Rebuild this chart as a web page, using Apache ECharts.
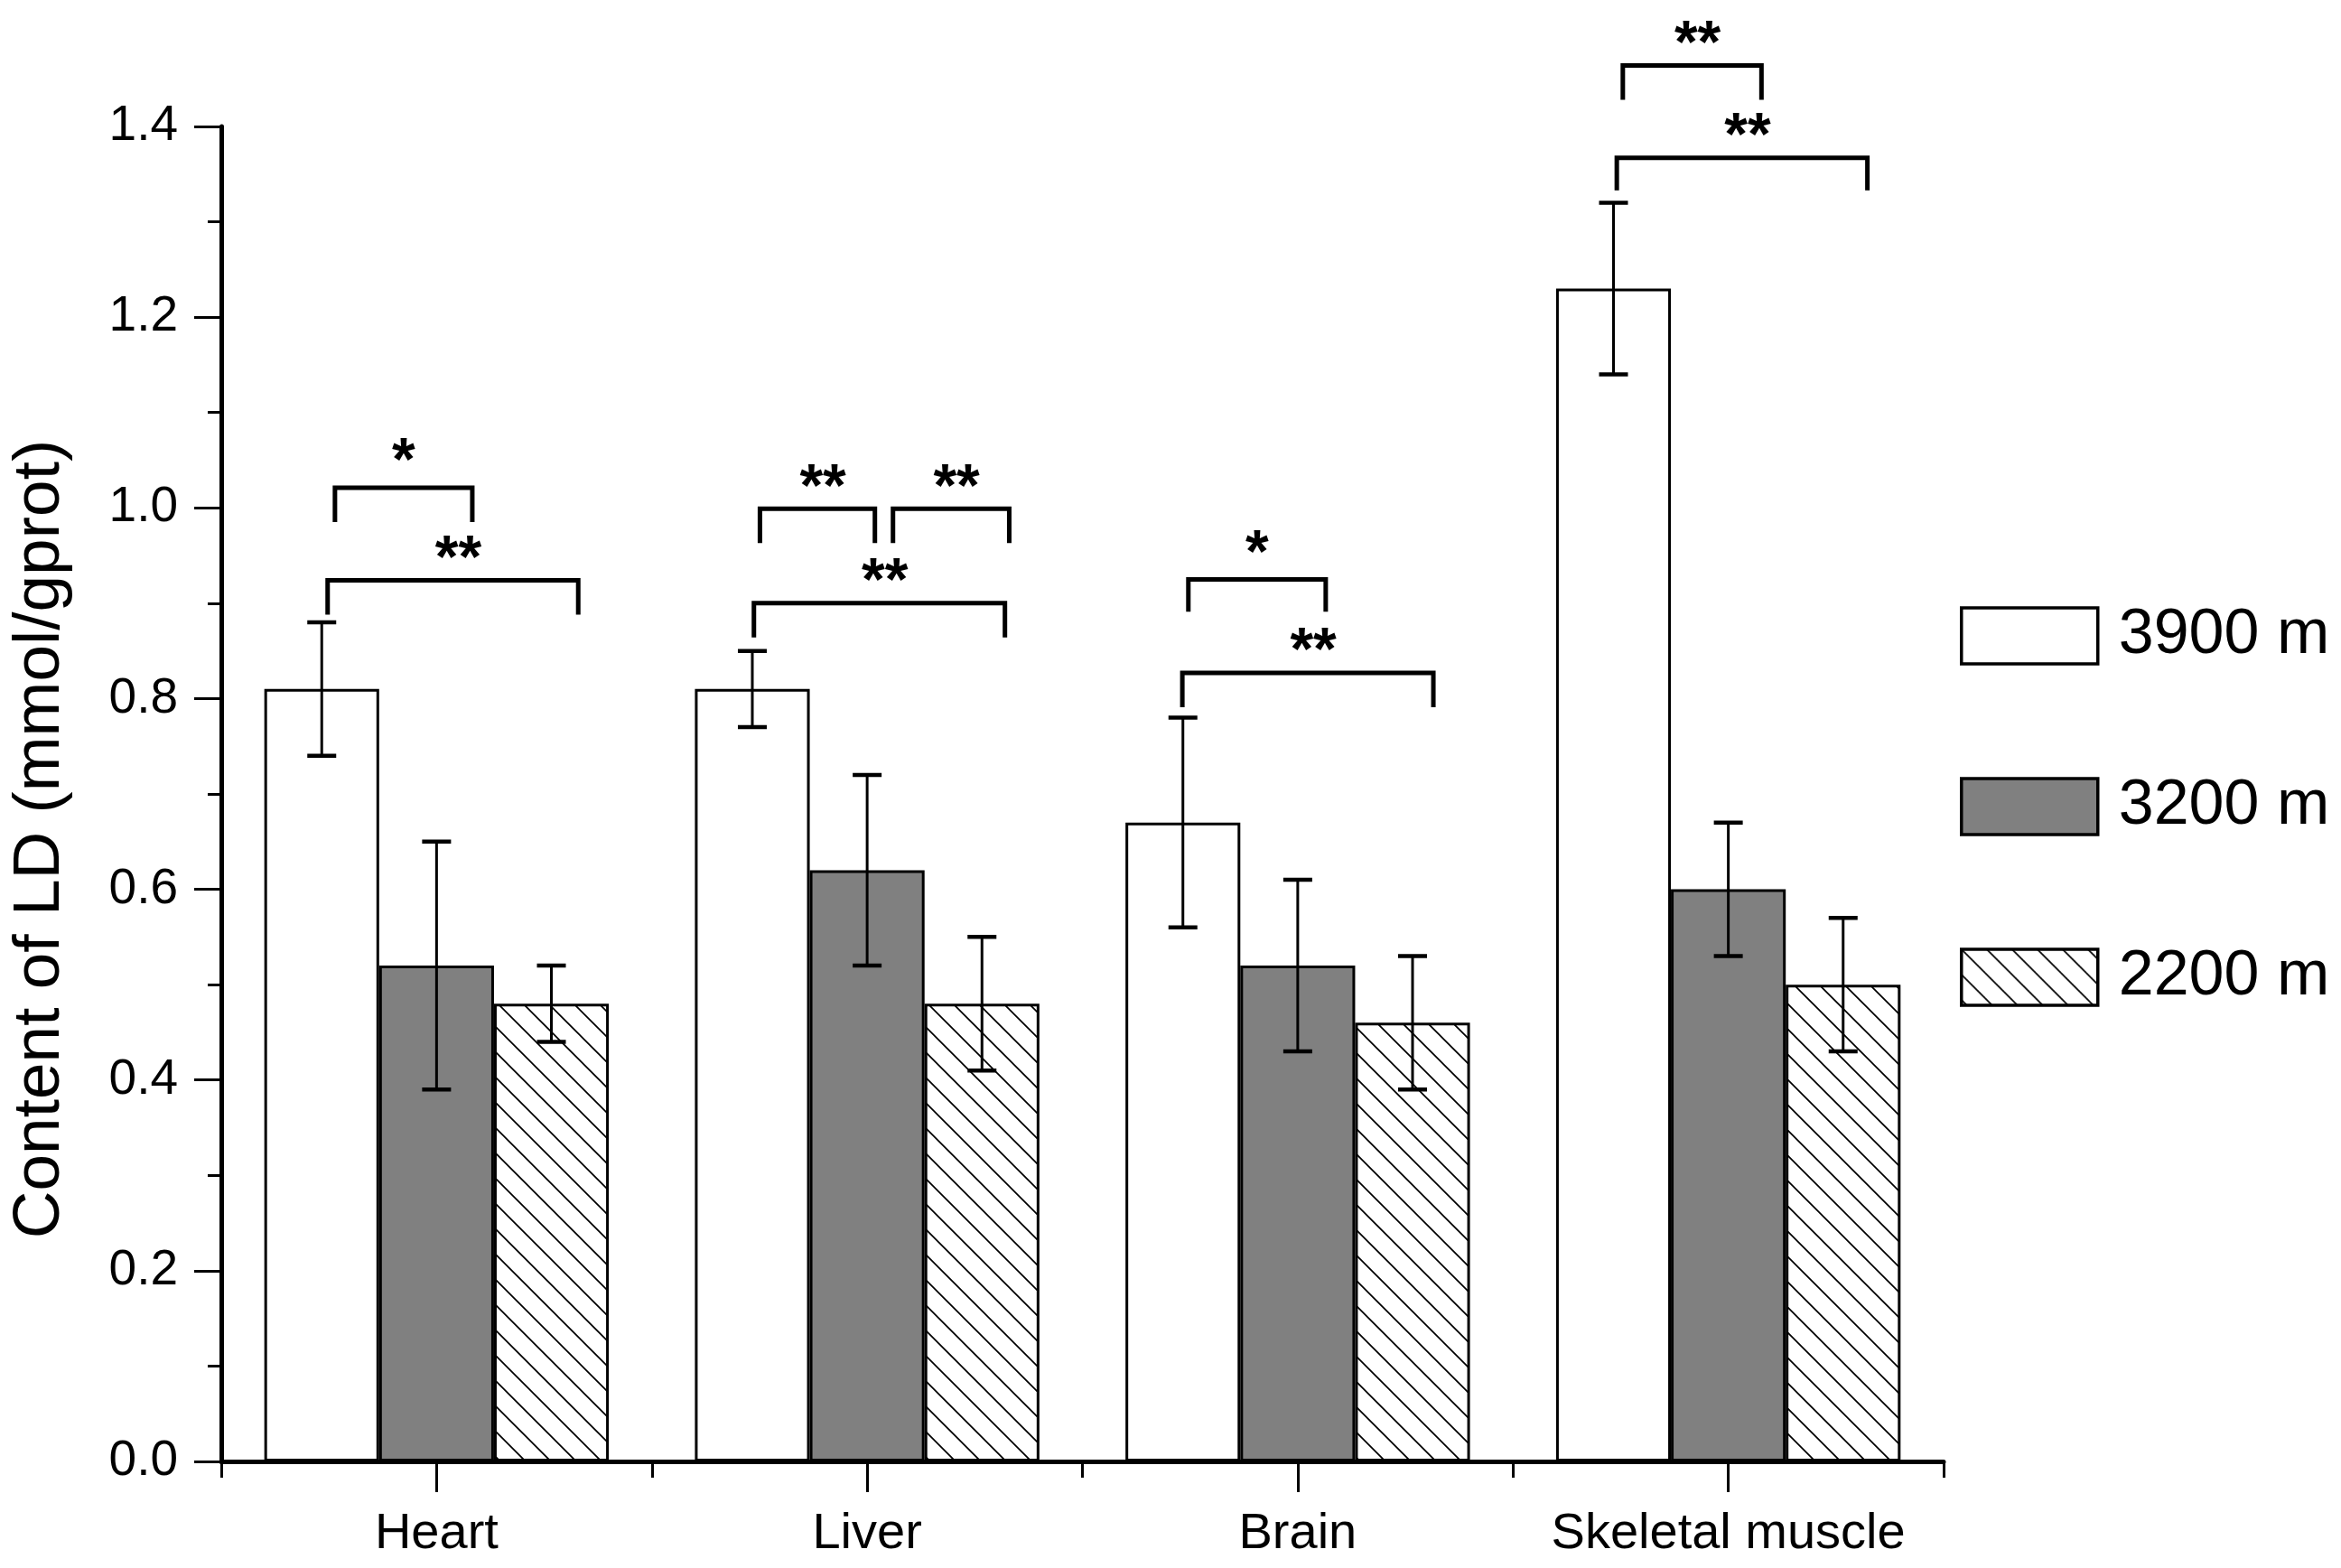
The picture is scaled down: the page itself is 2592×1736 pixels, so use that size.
<!DOCTYPE html>
<html>
<head>
<meta charset="utf-8">
<script src="https://cdn.jsdelivr.net/npm/echarts@6/dist/echarts.min.js"></script>
<style>
html,body{margin:0;padding:0;background:#fff;}
#chart{width:2592px;height:1736px;}
</style>
</head>
<body>
<div id="chart"></div>
<script>
// ---------------- data ----------------
const categories = ['Heart', 'Liver', 'Brain', 'Skeletal muscle'];
const seriesNames = ['3900 m', '3200 m', '2200 m'];
const mean3900 = [0.81, 0.81, 0.67, 1.23];
const mean3200 = [0.52, 0.62, 0.52, 0.60];
const mean2200 = [0.48, 0.48, 0.46, 0.50];
const err3900 = [0.07, 0.04, 0.11, 0.09];
const err3200 = [0.13, 0.10, 0.09, 0.07];
const err2200 = [0.04, 0.07, 0.07, 0.07];
const yTicks = [0, 0.2, 0.4, 0.6, 0.8, 1.0, 1.2, 1.4];
const yAxisTitle = 'Content of LD (mmol/gprot)';

// significance brackets: category, left offset, right offset (in category widths), top value, leg value, label
const bracketCat   = [0, 0, 1, 1, 1, 2, 2, 3, 3];
const bracketFrom  = [-0.236, -0.253, -0.249, 0.060, -0.263, -0.254, -0.268, -0.245, -0.259];
const bracketTo    = [0.083, 0.329, 0.018, 0.330, 0.320, 0.065, 0.315, 0.077, 0.323];
const bracketTop   = [1.021, 0.924, 0.999, 0.999, 0.900, 0.925, 0.827, 1.464, 1.367];
const bracketLeg   = [0.985, 0.888, 0.963, 0.963, 0.864, 0.891, 0.791, 1.428, 1.333];
const bracketLabel = ['*', '**', '**', '**', '**', '*', '**', '**', '**'];

// ---------------- helpers ----------------
function hatchPattern() {
  const s = 28;
  const c = document.createElement('canvas');
  c.width = s; c.height = s;
  const g = c.getContext('2d');
  g.fillStyle = '#fff';
  g.fillRect(0, 0, s, s);
  g.strokeStyle = '#000';
  g.lineWidth = 1.7;
  g.beginPath();
  g.moveTo(-2, -2); g.lineTo(s + 2, s + 2);
  g.moveTo(-2, s - 2); g.lineTo(2, s + 2);
  g.moveTo(s - 2, -2); g.lineTo(s + 2, 2);
  g.stroke();
  return { image: c, repeat: 'repeat' };
}

const BAR_FRAC = 0.8 / 3;
function errRender(offset) {
  return function (params, api) {
    const c = api.value(0);
    const lo = api.coord([c, api.value(1)]);
    const hi = api.coord([c, api.value(2)]);
    const bw = api.size([1, 0])[0];
    const x = lo[0] + offset * BAR_FRAC * bw;
    const cap = 16;
    const st = { stroke: '#000', lineWidth: 3 };
    const stc = { stroke: '#000', lineWidth: 4.5 };
    return {
      type: 'group',
      children: [
        { type: 'line', shape: { x1: x, y1: hi[1], x2: x, y2: lo[1] }, style: st },
        { type: 'line', shape: { x1: x - cap, y1: hi[1], x2: x + cap, y2: hi[1] }, style: stc },
        { type: 'line', shape: { x1: x - cap, y1: lo[1], x2: x + cap, y2: lo[1] }, style: stc }
      ]
    };
  };
}

function errData(mean, err) {
  return mean.map((m, i) => [i, +(m - err[i]).toFixed(3), +(m + err[i]).toFixed(3)]);
}

function bracketRender(params, api) {
  const i = params.dataIndex;
  const c = api.value(0);
  const bw = api.size([1, 0])[0];
  const top = api.coord([c, api.value(3)]);
  const leg = api.coord([c, api.value(4)]);
  const x0 = top[0] + api.value(1) * bw;
  const x1 = top[0] + api.value(2) * bw;
  const single = bracketLabel[i].length === 1;
  const xm = (x0 + x1) / 2 + (single ? 0 : 6);
  return {
    type: 'group',
    children: [
      {
        type: 'polyline',
        shape: { points: [[x0, leg[1]], [x0, top[1]], [x1, top[1]], [x1, leg[1]]] },
        style: { stroke: '#000', lineWidth: 5, fill: null }
      },
      {
        type: 'text',
        style: {
          text: bracketLabel[i],
          x: xm, y: top[1] + (single ? 6 : 11),
          align: 'center', verticalAlign: 'bottom',
          font: 'bold 66px "Liberation Sans", Arial, sans-serif',
          fill: '#000'
        }
      }
    ]
  };
}

const bracketData = bracketCat.map((c, i) => [c, bracketFrom[i], bracketTo[i], bracketTop[i], bracketLeg[i]]);

// ---------------- chart ----------------
const chart = echarts.init(document.getElementById('chart'), null, { renderer: 'canvas' });
const FONT = '"Liberation Sans", Arial, sans-serif';
const hatch = hatchPattern();

const barBase = { type: 'bar', barGap: '0%', barCategoryGap: '20%', z: 2 };

chart.setOption({
  animation: false,
  backgroundColor: '#fff',
  textStyle: { fontFamily: FONT, color: '#000' },
  grid: { left: 245, right: 440, top: 140, bottom: 118, containLabel: false, outerBoundsMode: 'none' },
  graphic: [{
    type: 'text',
    x: 45, y: 929,
    rotation: Math.PI / 2,
    style: {
      text: yAxisTitle,
      align: 'center', verticalAlign: 'middle',
      font: '73px "Liberation Sans", Arial, sans-serif',
      fill: '#000'
    }
  }],
  legend: {
    orient: 'vertical',
    left: 2165,
    top: 664,
    itemWidth: 151,
    itemHeight: 62,
    itemGap: 119,
    icon: 'rect',
    selectedMode: false,
    data: seriesNames,
    itemStyle: { borderColor: '#000', borderWidth: 3.5 },
    textStyle: { fontSize: 70, fontFamily: FONT, color: '#000', lineHeight: 66, padding: [0, 0, 0, 18] }
  },
  xAxis: [
    {
      type: 'category',
      data: categories,
      position: 'bottom',
      axisLine: { show: true, lineStyle: { color: '#000', width: 5 } },
      axisTick: { show: true, interval: 0, alignWithLabel: false, length: 18, lineStyle: { color: '#000', width: 3 } },
      axisLabel: { interval: 0, fontSize: 56, fontFamily: FONT, color: '#000', margin: 53 },
      splitLine: { show: false }
    },
    {
      type: 'category',
      data: categories,
      position: 'bottom',
      offset: 0,
      axisLine: { show: false },
      axisTick: { show: true, interval: 0, alignWithLabel: true, length: 34, lineStyle: { color: '#000', width: 3 } },
      axisLabel: { show: false, interval: 0 },
      splitLine: { show: false }
    }
  ],
  yAxis: {
    type: 'value',
    min: 0,
    max: 1.4,
    interval: 0.2,
    axisLine: { show: true, lineStyle: { color: '#000', width: 5 } },
    axisTick: { show: true, length: 30, lineStyle: { color: '#000', width: 3 } },
    minorTick: { show: true, splitNumber: 2, length: 15, lineStyle: { color: '#000', width: 3 } },
    splitLine: { show: false },
    axisLabel: {
      fontSize: 55, fontFamily: FONT, color: '#000', margin: 48,
      formatter: v => { const t = yTicks.find(k => Math.abs(k - v) < 1e-6); return (t !== undefined ? t : v).toFixed(1); }
    }
  },
  series: [
    Object.assign({}, barBase, {
      name: seriesNames[0], data: mean3900,
      itemStyle: { color: '#fff', borderColor: '#000', borderWidth: 3 }
    }),
    Object.assign({}, barBase, {
      name: seriesNames[1], data: mean3200,
      itemStyle: { color: '#808080', borderColor: '#000', borderWidth: 3 }
    }),
    Object.assign({}, barBase, {
      name: seriesNames[2], data: mean2200,
      itemStyle: { color: hatch, borderColor: '#000', borderWidth: 3 }
    }),
    { type: 'custom', name: 'err1', z: 5, renderItem: errRender(-1), data: errData(mean3900, err3900), encode: { x: 0, y: [1, 2] } },
    { type: 'custom', name: 'err2', z: 5, renderItem: errRender(0), data: errData(mean3200, err3200), encode: { x: 0, y: [1, 2] } },
    { type: 'custom', name: 'err3', z: 5, renderItem: errRender(1), data: errData(mean2200, err2200), encode: { x: 0, y: [1, 2] } },
    { type: 'custom', name: 'sig', z: 6, clip: false, renderItem: bracketRender, data: bracketData, encode: { x: 0, y: 3 } }
  ]
});
</script>
</body>
</html>
